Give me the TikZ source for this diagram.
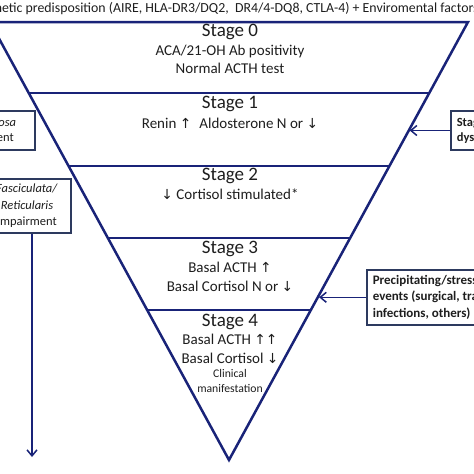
\documentclass[tikz,border=0pt]{standalone}
\usepackage{fontspec}
\setmainfont{Carlito}
\newfontfamily\arrowfont[Scale=0.92]{DejaVu Sans}
\usetikzlibrary{arrows.meta,calc,positioning}

\definecolor{trinavy}{RGB}{25,35,120}
\definecolor{boxedge}{RGB}{45,58,95}
\definecolor{txtgray}{RGB}{30,30,30}

\newcommand{\upar}{{\arrowfont ↑}}
\newcommand{\downar}{{\arrowfont ↓}}

\begin{document}
\begin{tikzpicture}[x=1pt, y=-1pt,
  stagehead/.style={anchor=base, inner sep=0, text=txtgray, font=\fontsize{19}{23}\selectfont},
  stagetext/.style={anchor=base, inner sep=0, text=txtgray, font=\fontsize{15}{19}\selectfont},
  smalltext/.style={anchor=base, inner sep=0, text=txtgray, font=\fontsize{11.7}{14}\selectfont},
  leftbox/.style={draw=boxedge, line width=1.6pt, fill=white, align=center, inner sep=2pt, text=txtgray},
  rightbox/.style={draw=boxedge, line width=1.6pt, fill=white, align=left, inner xsep=6pt, inner ysep=3pt, text=txtgray},
  divider/.style={trinavy, line width=2pt},
  feed/.style={trinavy, line width=1.5pt, -{Straight Barb[length=6pt,width=10pt]}}]
  \useasboundingbox (0,0) rectangle (474,474);
  \clip (0,0) rectangle (474,474);

  % funnel
  \coordinate (tl) at (-10,22);
  \coordinate (tr) at (468,22);
  \coordinate (ap) at (229,460);
  \draw[trinavy, line width=2.5pt] (tl) -- (tr) -- (ap) -- cycle;
  \draw[divider] ($(tl)!0.162!(ap)$) -- ($(tr)!0.162!(ap)$);
  \draw[divider] ($(tl)!0.329!(ap)$) -- ($(tr)!0.329!(ap)$);
  \draw[divider] ($(tl)!0.493!(ap)$) -- ($(tr)!0.493!(ap)$);
  \draw[divider] ($(tl)!0.658!(ap)$) -- ($(tr)!0.658!(ap)$);

  \node[anchor=base west, inner sep=0, text=txtgray, font=\fontsize{13.85}{16}\selectfont] at (-21,12) (genetic)
    {Genetic predisposition (AIRE, HLA-DR3/DQ2,\ \ DR4/4-DQ8, CTLA-4) + Enviromental factors};

  % stages
  \node[stagehead] at (230,36) (stage0) {Stage 0};
  \node[stagetext] at (230,55) (aca) {ACA/21-OH Ab positivity};
  \node[stagetext] at (230,73.5) (acth0) {Normal ACTH test};

  \node[stagehead] at (230,108) (stage1) {Stage 1};
  \node[stagetext] at (230,128) (renin) {Renin \upar\hspace{8pt}Aldosterone N or \downar};

  \node[stagehead] at (230,180) (stage2) {Stage 2};
  \node[stagetext] at (230,199) (cort2) {\downar\ Cortisol stimulated*};

  \node[stagehead] at (230,253) (stage3) {Stage 3};
  \node[stagetext] at (230,272.5) (acth3) {Basal ACTH \upar};
  \node[stagetext] at (230,291) (cort3) {Basal Cortisol N or \downar};

  \node[stagehead] at (230,326) (stage4) {Stage 4};
  \node[stagetext] at (230,344.5) (acth4) {Basal ACTH \upar\upar};
  \node[stagetext] at (230,363) (cort4) {Basal Cortisol \downar};
  \node[smalltext] at (230,377.5) (clin1) {Clinical};
  \node[smalltext] at (230,392) (clin2) {manifestation};

  % side boxes
  \node[leftbox, minimum width=102pt, minimum height=39pt, font=\fontsize{12.5}{15}\selectfont] at (-16,130.5) (glom)
    {\textit{Glomerulosa}\\impairment};
  \node[leftbox, minimum width=88pt, minimum height=54pt, font=\fontsize{12.5}{16.5}\selectfont] at (27,206) (fasc)
    {\textit{Fasciculata/}\\\textit{Reticularis}\\impairment};
  \node[rightbox, anchor=west, minimum height=39pt, font=\bfseries\fontsize{12.5}{14.6}\selectfont] at (450,130.5) (stab)
    {Stage-specific\\dysfunction};
  \node[rightbox, anchor=north west, minimum height=55pt, font=\bfseries\fontsize{13}{16.5}\selectfont] at (366,269) (precip)
    {Precipitating/stress\\events (surgical, trauma,\\infections, others)};

  \coordinate (endL) at (32,457);
  \coordinate (hitA) at ($(tr)!0.248!(ap)$);
  \coordinate (hitB) at ($(tr)!0.627!(ap)$);

  \draw[feed] (fasc.south -| endL) -- (endL);
  \draw[feed, shorten >=1pt] (stab.west) -- (stab.west -| hitA);
  \draw[feed, shorten >=1pt] (precip.west) -- (precip.west -| hitB);
\end{tikzpicture}
\end{document}
